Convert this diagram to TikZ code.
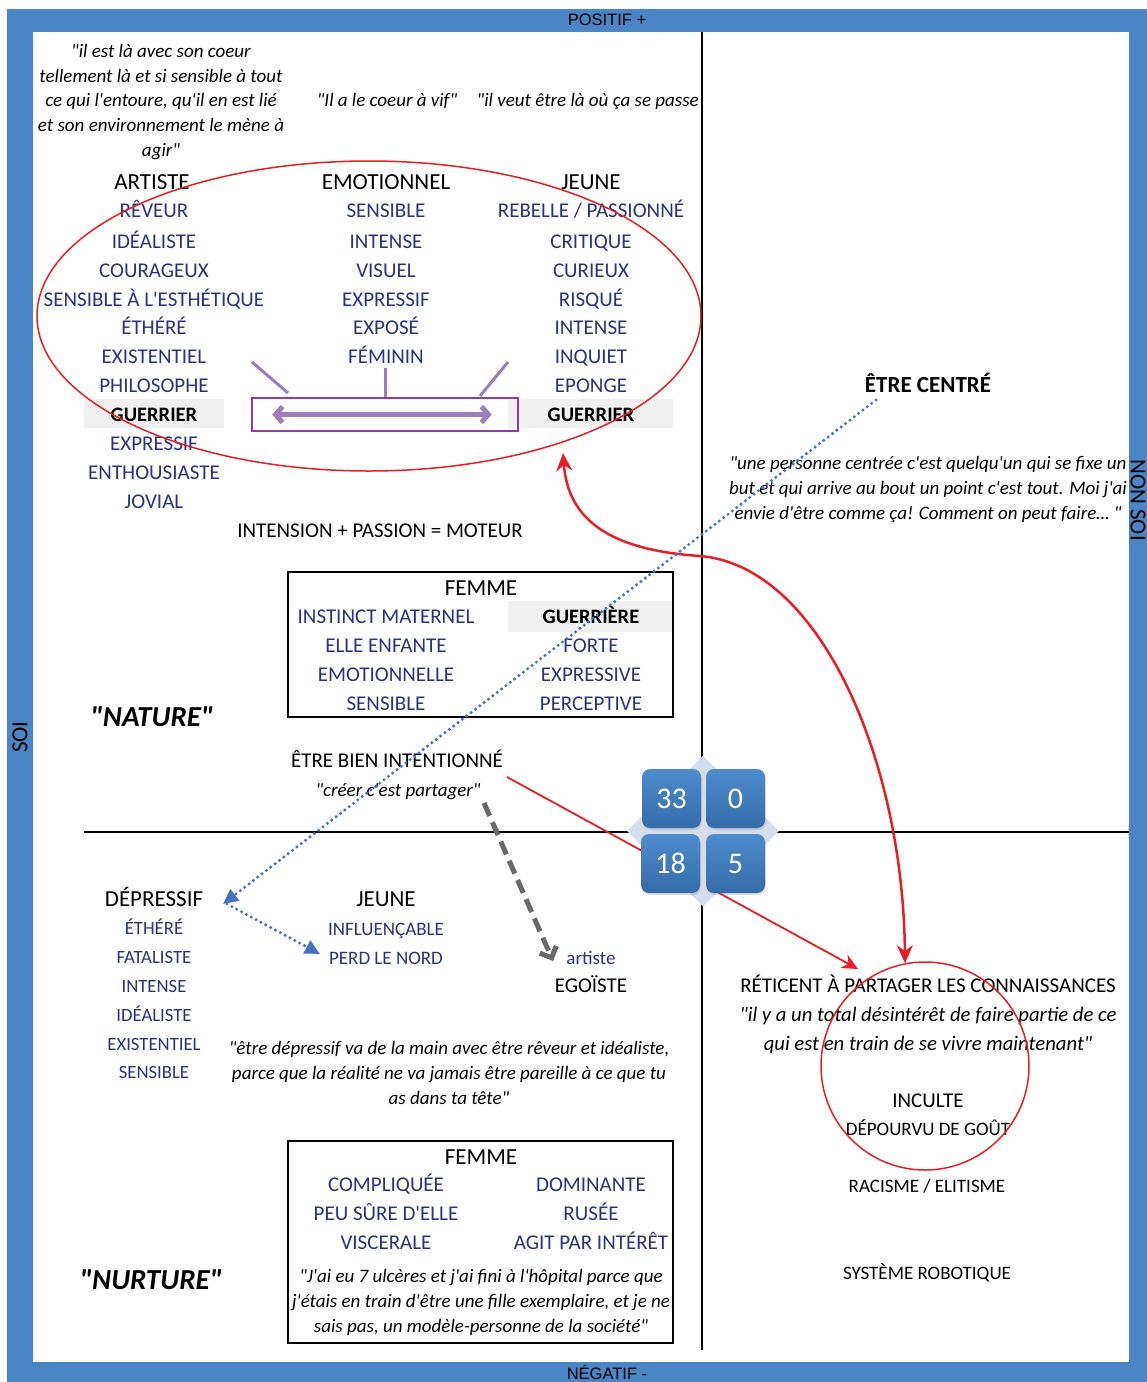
\documentclass[tikz,border=0pt]{standalone}
\usepackage{fontspec}
\setmainfont{Carlito}[Ligatures=TeXOff]
\newfontfamily\arialf{Liberation Sans}
\usetikzlibrary{arrows.meta,shapes.geometric,shadows}
\definecolor{band}{RGB}{74,134,198}
\definecolor{tblue}{RGB}{40,52,128}
\definecolor{redl}{RGB}{232,30,38}
\definecolor{pbox}{RGB}{145,60,165}
\definecolor{parr}{RGB}{155,125,192}
\definecolor{gbg}{RGB}{240,240,240}
\definecolor{dblue}{RGB}{68,114,196}
\definecolor{gdash}{RGB}{105,105,105}
\definecolor{diam}{RGB}{212,222,236}
\definecolor{btop}{RGB}{78,140,204}
\definecolor{bbot}{RGB}{52,108,168}
\begin{document}
\begin{tikzpicture}[x=1pt,y=-1pt,
 bl/.style={text=tblue,font=\fontsize{21}{24}\selectfont,inner sep=0pt,text height=13.5pt,text depth=0pt},
 bls/.style={text=tblue,font=\fontsize{18.7}{22}\selectfont,inner sep=0pt,text height=12pt,text depth=0pt},
 blm/.style={text=tblue,font=\fontsize{19}{22}\selectfont,inner sep=0pt,text height=12.2pt,text depth=0pt},
 blf/.style={text=tblue,font=\fontsize{21}{24}\selectfont,inner sep=0pt,text height=13.5pt,text depth=0pt},
 hd/.style={font=\fontsize{23}{26}\selectfont,inner sep=0pt,text height=14.8pt,text depth=0pt},
 bk/.style={font=\fontsize{21}{24}\selectfont,inner sep=0pt,text height=13.5pt,text depth=0pt},
 sm/.style={font=\fontsize{19}{22}\selectfont,inner sep=0pt,text height=12.2pt,text depth=0pt},
 gb/.style={font=\bfseries\fontsize{20.5}{24}\selectfont,inner sep=0pt,text height=13.2pt,text depth=0pt},
 qt/.style={font=\itshape\fontsize{19}{24}\selectfont,inner sep=0pt,text height=11.5pt,text depth=0pt},
 qtb/.style={font=\itshape\fontsize{20.7}{26}\selectfont,inner sep=0pt,text height=12.5pt,text depth=0pt},
 big/.style={font=\bfseries\itshape\fontsize{29}{33}\selectfont,inner sep=0pt,text height=18.7pt,text depth=0pt},
 bandl/.style={font=\arialf\fontsize{16.5}{18}\selectfont,inner sep=0pt},
 vlab/.style={font=\fontsize{23}{26}\selectfont,inner sep=0pt},
 badge/.style={rounded corners=8pt,minimum width=59pt,minimum height=59pt,inner sep=0pt,top color=btop,bottom color=bbot,text=white,font=\fontsize{30}{34}\selectfont,drop shadow={opacity=0.25,shadow xshift=1pt,shadow yshift=-2pt}},
 fbox/.style={draw,line width=2pt,inner sep=0pt},
 redarr/.style={draw=redl,line width=1.8pt,-{Stealth[length=16pt,width=15pt]}},
 bdot/.style={draw=dblue,line width=3.4pt,dash pattern=on 0pt off 5.5pt,line cap=round,-{Triangle[length=15pt,width=14pt]}},
]
\useasboundingbox (0,0) rectangle (1147,1382);
% frame bands
\fill[band] (7,9) rectangle (1147,1382);
\fill[white] (33,32) rectangle (1129,1362);
\node[bandl] (pos) at (607,20) {POSITIF +};
\node[bandl] (neg) at (607,1372) {NÉGATIF -};
\node[vlab,rotate=90] (soi) at (20,737) {SOI};
\node[vlab,rotate=-90] (nsoi) at (1138,500) {NON SOI};
% axes
\draw[line width=1.6pt] (702,32) -- (702,1350);
\draw[line width=1.6pt] (84,832) -- (1129,832);
% grey backgrounds
\fill[gbg] (84,399) rectangle (224,428);
\fill[gbg] (508,399) rectangle (673,428);
\fill[gbg] (508,601) rectangle (672,632);
% top quotes
\node[qt] (q1) at (161,52) {"il est là avec son coeur};
\node[qt] (q2) at (161,77) {tellement là et si sensible à tout};
\node[qt] (q3) at (161,101) {ce qui l'entoure, qu'il en est lié};
\node[qt] (q4) at (161,126) {et son environnement le mène à};
\node[qt] (q5) at (161,151) {agir"};
\node[qt] (q6) at (387,101) {"Il a le coeur à vif"};
\node[qt,anchor=east] (q7) at (699,101) {"il veut être là où ça se passe};
% headers
\node[hd] (hart) at (152,182) {ARTISTE};
\node[hd] (hemo) at (386,182) {EMOTIONNEL};
\node[hd] (hjeu) at (591,182) {JEUNE};
% left column
\node[bl] (l1) at (154,211) {RÊVEUR};
\node[bl] (l2) at (154,242) {IDÉALISTE};
\node[bl] (l3) at (154,271) {COURAGEUX};
\node[bl] (l4) at (154,300) {SENSIBLE À L'ESTHÉTIQUE};
\node[bl] (l5) at (154,328) {ÉTHÉRÉ};
\node[bl] (l6) at (154,357) {EXISTENTIEL};
\node[bl] (l7) at (154,386) {PHILOSOPHE};
\node[gb] (l8) at (154,415) {GUERRIER};
\node[bl] (l9) at (154,444) {EXPRESSIF};
\node[bl] (l10) at (154,473) {ENTHOUSIASTE};
\node[bl] (l11) at (154,502) {JOVIAL};
% middle column
\node[bl] (m1) at (386,211) {SENSIBLE};
\node[bl] (m2) at (386,242) {INTENSE};
\node[bl] (m3) at (386,271) {VISUEL};
\node[bl] (m4) at (386,300) {EXPRESSIF};
\node[bl] (m5) at (386,328) {EXPOSÉ};
\node[bl] (m6) at (386,357) {FÉMININ};
% right column
\node[bl] (r1) at (591,211) {REBELLE / PASSIONNÉ};
\node[bl] (r2) at (591,242) {CRITIQUE};
\node[bl] (r3) at (591,271) {CURIEUX};
\node[bl] (r4) at (591,300) {RISQUÉ};
\node[bl] (r5) at (591,328) {INTENSE};
\node[bl] (r6) at (591,357) {INQUIET};
\node[bl] (r7) at (591,386) {EPONGE};
\node[gb] (r8) at (591,415) {GUERRIER};
% purple box and arrows
\node[draw=pbox,line width=1.5pt,minimum width=266pt,minimum height=33pt,inner sep=0pt] (pb) at (385,414.5) {};
\draw[parr,line width=5pt,{Straight Barb[length=7pt,width=16pt]}-{Straight Barb[length=7pt,width=16pt]}] ([xshift=21pt]pb.west) -- ([xshift=-27pt]pb.east);
\draw[parr,line width=3pt] (252,362) -- (288,393);
\draw[parr,line width=3pt] (385,368) -- (pb.north);
\draw[parr,line width=3pt] (508,362) -- (480,396);
% red ellipse
\node[ellipse,draw=redl,line width=1.5pt,minimum width=664pt,minimum height=310pt,inner sep=0pt] (ell) at (369,316) {};
% formula
\node[bk] (form) at (380,531) {INTENSION + PASSION = MOTEUR};
% femme box 1
\node[fbox,minimum width=385pt,minimum height=145pt] (f1) at (480.5,644.5) {};
\node[hd] (f1h) at (481,588) {FEMME};
\node[blf] (f1a) at (386,617) {INSTINCT MATERNEL};
\node[blf] (f1b) at (386,646) {ELLE ENFANTE};
\node[blf] (f1c) at (386,675) {EMOTIONNELLE};
\node[blf] (f1d) at (386,704) {SENSIBLE};
\node[gb] (f1e) at (591,617) {GUERRIÈRE};
\node[blf] (f1f) at (591,646) {FORTE};
\node[blf] (f1g) at (591,675) {EXPRESSIVE};
\node[blf] (f1h2) at (591,704) {PERCEPTIVE};
\node[big] (nat) at (152,717) {"NATURE"};
% bien intentionne
\node[bk] (bien) at (397,761) {ÊTRE BIEN INTENTIONNÉ};
\node[qt] (crea) at (398,791) {"créer c'est partager"};
% right top
\node[gb,font=\bfseries\fontsize{23}{26}\selectfont,text height=14.8pt] (cent) at (928,385) {ÊTRE CENTRÉ};
\node[qt] (rc1) at (928,464) {"une personne centrée c'est quelqu'un qui se fixe un};
\node[qt] (rc2) at (928,489) {but et qui arrive au bout un point c'est tout. Moi j'ai};
\node[qt] (rc3) at (928,514) {envie d'être comme ça! Comment on peut faire… "};
% lower left
\node[hd] (dep) at (154,899) {DÉPRESSIF};
\node[bls] (d1) at (154,928) {ÉTHÉRÉ};
\node[bls] (d2) at (154,957) {FATALISTE};
\node[bls] (d3) at (154,986) {INTENSE};
\node[bls] (d4) at (154,1015) {IDÉALISTE};
\node[bls] (d5) at (154,1044) {EXISTENTIEL};
\node[bls] (d6) at (154,1072) {SENSIBLE};
\node[hd] (jeu2) at (386,899) {JEUNE};
\node[blm] (j1) at (386,929) {INFLUENÇABLE};
\node[blm] (j2) at (386,958) {PERD LE NORD};
\node[blm] (art) at (591,958) {artiste};
\node[bk] (ego) at (591,986) {EGOÏSTE};
\node[qt] (dq1) at (449,1049) {"être dépressif va de la main avec être rêveur et idéaliste,};
\node[qt] (dq2) at (449,1074) {parce que la réalité ne va jamais être pareille à ce que tu};
\node[qt] (dq3) at (449,1099) {as dans ta tête"};
% femme box 2
\node[fbox,minimum width=385pt,minimum height=202pt] (f2) at (480.5,1242) {};
\node[hd] (f2h) at (481,1157) {FEMME};
\node[blf] (f2a) at (386,1185) {COMPLIQUÉE};
\node[blf] (f2b) at (386,1214) {PEU SÛRE D'ELLE};
\node[blf] (f2c) at (386,1243) {VISCERALE};
\node[blf] (f2d) at (591,1185) {DOMINANTE};
\node[blf] (f2e) at (591,1214) {RUSÉE};
\node[blf] (f2f) at (591,1243) {AGIT PAR INTÉRÊT};
\node[qt] (fq1) at (481,1277) {"J'ai eu 7 ulcères et j'ai fini à l'hôpital parce que};
\node[qt] (fq2) at (481,1302) {j'étais en train d'être une fille exemplaire, et je ne};
\node[qt] (fq3) at (481,1327) {sais pas, un modèle-personne de la société"};
\node[big] (nur) at (151,1280) {"NURTURE"};
% lower right
\node[bk] (ret) at (928,986) {RÉTICENT À PARTAGER LES CONNAISSANCES};
\node[qtb] (rq1) at (928,1015) {"il y a un total désintérêt de faire partie de ce};
\node[qtb] (rq2) at (928,1044) {qui est en train de se vivre maintenant"};
\node[bk] (inc) at (928,1101) {INCULTE};
\node[sm] (dep2) at (928,1129) {DÉPOURVU DE GOÛT};
\node[sm] (rac) at (927,1186) {RACISME / ELITISME};
\node[sm] (sys) at (927,1273) {SYSTÈME ROBOTIQUE};
\node[circle,draw=redl,line width=1.5pt,minimum size=208pt,inner sep=0pt] (circ) at (925,1066) {};
% red straight arrow (behind badges)
\coordinate (rs) at (507,777);
\coordinate (rt) at (858,969);
\draw[redarr] (rs) -- (rt);
% badges
\node[diamond,fill=diam,minimum width=152pt,minimum height=151pt,inner sep=0pt] (dm) at (703,831) {};
\node[badge] (n33) at (671.5,798.5) {33};
\node[badge] (n0) at (735.5,798.5) {0};
\node[badge] (n18) at (670.5,863.5) {18};
\node[badge] (n5) at (735.5,863.5) {5};
% red curved arrow
\coordinate (c1) at (563,453);
\coordinate (c2) at (circ.101);
\draw[draw=redl,line width=2.5pt,{Stealth[length=18pt,width=16pt]}-{Stealth[length=18pt,width=16pt]}] (c1) .. controls (568,520) and (610,550) .. (700,556) .. controls (820,566) and (903,760) .. (c2);
% blue dotted arrows
\coordinate (bd1) at (876,400);
\coordinate (bd2) at (223,904);
\coordinate (bd3) at (320,954);
\draw[bdot] (bd1) -- (bd2);
\draw[bdot] ([xshift=4pt]bd2) -- (bd3);
% grey dashed arrow
\coordinate (g1) at (484,803);
\coordinate (g2) at (553,961);
\draw[gdash,line width=5pt,dash pattern=on 14pt off 7pt,-{Straight Barb[length=9pt,width=18pt]}] (g1) -- (g2);
\end{tikzpicture}
\end{document}
